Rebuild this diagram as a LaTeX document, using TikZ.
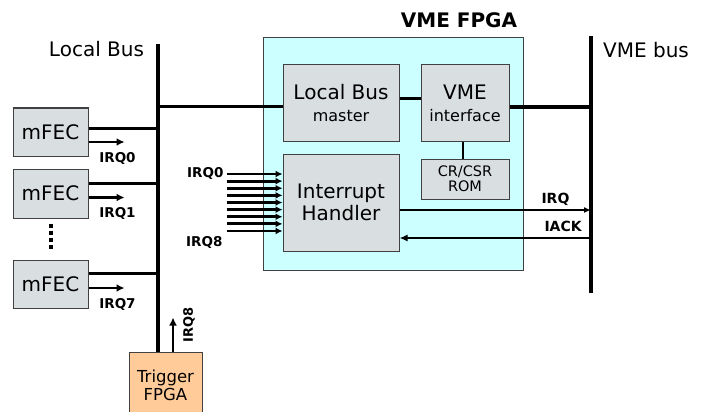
\documentclass[tikz,border=0pt]{standalone}
\usepackage{fontspec}
\setmainfont{DejaVu Sans}
\usetikzlibrary{arrows.meta}
\definecolor{boxgray}{HTML}{D9DEE1}
\definecolor{fpgacyan}{HTML}{CCFFFF}
\definecolor{trigorange}{HTML}{FFCC99}
\definecolor{edgegray}{HTML}{404040}

\begin{document}
\begin{tikzpicture}[x=1pt,y=-1pt,
    block/.style={draw=edgegray, fill=boxgray, line width=1pt, inner sep=0pt, align=center},
    big/.style={font=\fontsize{20}{22}\selectfont},
    tag/.style={font=\bfseries\fontsize{13.5}{15}\selectfont},
    bus/.style={line width=4pt},
    wire/.style={line width=3pt},
    irq/.style={line width=2.5pt, -{Latex[length=8pt,width=8pt]}}]
    \useasboundingbox (0,0) rectangle (710,412);

    % -------------------------
    % VME FPGA
    % -------------------------
    \node[draw=edgegray, fill=fpgacyan, line width=1pt, inner sep=0pt,
          minimum width=260pt, minimum height=232pt] (fpga) at (393,154) {};
    \node[font=\bfseries\fontsize{20}{22}\selectfont, anchor=base] (fpganame) at (459,28) {VME FPGA};

    \node[block, big, minimum width=116pt, minimum height=76pt] (lbm) at (341,103)
        {Local Bus\\{\fontsize{16}{18}\selectfont master}};
    \node[block, big, minimum width=88pt, minimum height=76pt] (vmei) at (465,103)
        {VME\\{\fontsize{16}{18}\selectfont interface}};
    \node[block, font=\fontsize{14.5}{15}\selectfont, minimum width=88pt, minimum height=40pt] (rom) at (465,179)
        {CR/CSR\\ROM};
    \node[block, big, minimum width=116pt, minimum height=97pt] (ih) at (341,202.5)
        {Interrupt\\Handler};

    % -------------------------
    % Trigger FPGA
    % -------------------------
    \node[draw=edgegray, fill=trigorange, line width=1pt, inner sep=0pt, align=center,
          font=\fontsize{16.5}{18}\selectfont, minimum width=73pt, minimum height=66pt] (trig) at (165.5,385)
        {Trigger\\FPGA};

    % -------------------------
    % the two buses
    % -------------------------
    \coordinate (lbtop) at (158,44);
    \coordinate (vbtop) at (591,36);
    \coordinate (vbbot) at (591,293);
    \draw[bus] (lbtop) -- (lbtop |- trig.north);
    \draw[bus] (vbtop) -- (vbbot);
    \node[big, anchor=base] (lbname) at (96.5,57) {Local Bus};
    \node[big, anchor=base] (vbname) at (646,58) {VME bus};

    % -------------------------
    % mFEC boards
    % -------------------------
    \node[block, big, minimum width=75pt, minimum height=48pt] (m1) at (50.5,132) {mFEC};
    \node[block, big, minimum width=75pt, minimum height=49pt] (m2) at (50.5,193.5) {mFEC};
    \node[block, big, minimum width=75pt, minimum height=48pt] (m3) at (50.5,284) {mFEC};
    \foreach \m/\a/\b/\t in {m1/4/-10/IRQ0, m2/10/-4/IRQ1, m3/11/-4/IRQ7}{
        \coordinate (\m-out) at ([yshift=\a pt]\m.east);
        \coordinate (\m-int) at ([yshift=\b pt]\m.east);
        \draw[wire] (\m-out) -- (\m-out -| lbtop);
        \draw[irq] (\m-int) -- ([xshift=36pt]\m-int);
        \node[tag, anchor=base] (\m-tag) at ([xshift=29pt,yshift=-20pt]\m-int) {\t};
    }
    % dots between the boards
    \draw[line width=4pt, dash pattern=on 4pt off 3pt] ([yshift=-5pt]m2.south) -- ([yshift=9pt]m3.north);

    % -------------------------
    % links
    % -------------------------
    \coordinate (lbin) at ([yshift=-4pt]lbm.west);
    \draw[wire] (lbin -| lbtop) -- (lbin);
    \draw[wire] ([yshift=4pt]lbm.east) -- ([yshift=4pt]vmei.west);
    \coordinate (vout) at ([yshift=-4pt]vmei.east);
    \draw[line width=3.5pt] (vout) -- (vout -| vbtop);
    \draw[line width=2pt] ([xshift=-2pt]vmei.south) -- ([xshift=-2pt]rom.north);

    % interrupt lines into the handler
    \foreach \i in {0,...,8}
        \draw[line width=2.8pt, -{Latex[length=7pt,width=7pt]}]
            ([xshift=-56pt,yshift={(28.5-7.125*\i)*1pt}]ih.west) -- ([yshift={(28.5-7.125*\i)*1pt}]ih.west);
    \node[tag, anchor=base east] (in0) at (227,177) {IRQ0};
    \node[tag, anchor=base east] (in8) at (226,246) {IRQ8};

    % IRQ / IACK to the VME bus
    \coordinate (irqo) at ([yshift=-7.5pt]ih.east);
    \coordinate (acki) at ([yshift=-35.5pt]ih.east);
    \draw[line width=2pt, -{Latex[length=7pt,width=6pt]}] (irqo) -- (irqo -| vbtop);
    \draw[line width=2.5pt, -{Latex[length=8pt,width=7pt]}] (acki -| vbtop) -- (acki);
    \node[font=\bfseries\fontsize{14}{16}\selectfont, anchor=base west] (irqname) at (538,203) {IRQ};
    \node[font=\bfseries\fontsize{14}{16}\selectfont, anchor=base west] (ackname) at (541,231) {IACK};

    % IRQ8 from the trigger
    \coordinate (trigo) at ([xshift=7.5pt]trig.north);
    \draw[irq] (trigo) -- ([yshift=34pt]trigo);
    \node[font=\bfseries\fontsize{13}{15}\selectfont, rotate=90] (trigirq) at (189,325) {IRQ8};

\end{tikzpicture}
\end{document}
